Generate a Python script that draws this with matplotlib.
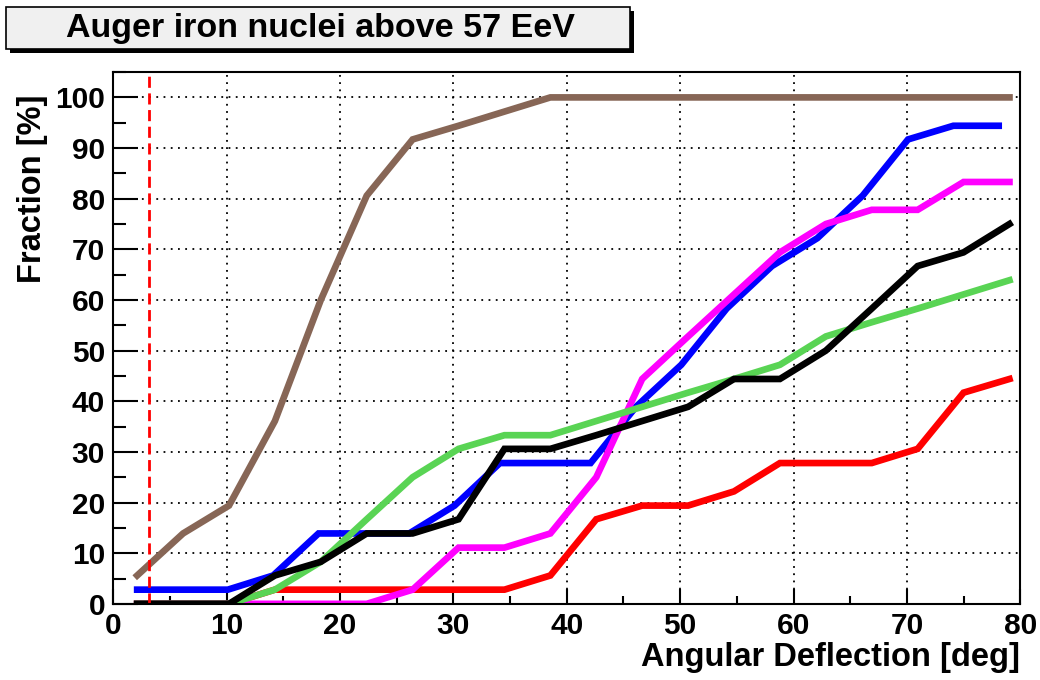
import matplotlib
matplotlib.use('Agg')
import matplotlib.pyplot as plt
from matplotlib.patches import Rectangle

# angular bins (deg)
x = [2.1, 6.15, 10.2, 14.25, 18.3, 22.35, 26.4, 30.45, 34.5, 38.55,
     42.6, 46.65, 50.7, 54.75, 58.8, 62.85, 66.9, 70.95, 75.0, 79.05]
x_blue = [2.1, 6.1, 10.1, 14.1, 18.1, 22.1, 26.1, 30.1, 34.1, 38.1,
          42.1, 46.1, 50.1, 54.1, 58.1, 62.1, 66.1, 70.1, 74.1, 78.1]

# cumulative fractions [%]
brown = [5.6, 13.9, 19.4, 36.1, 60.0, 80.6, 91.7, 94.4, 97.2, 100,
         100, 100, 100, 100, 100, 100, 100, 100, 100, 100]
blue = [2.8, 2.8, 2.8, 5.6, 13.9, 13.9, 13.9, 19.4, 27.8, 27.8,
        27.8, 38.9, 47.2, 58.3, 66.7, 72.2, 80.6, 91.7, 94.4, 94.4]
magenta = [0, 0, 0, 0, 0, 0, 2.8, 11.1, 11.1, 13.9,
           25.0, 44.4, 52.8, 61.1, 69.4, 75.0, 77.8, 77.8, 83.3, 83.3]
green = [0, 0, 0, 2.8, 8.3, 16.7, 25.0, 30.6, 33.3, 33.3,
         36.1, 38.9, 41.7, 44.4, 47.2, 52.8, 55.6, 58.3, 61.1, 63.9]
black = [0, 0, 0, 5.6, 8.3, 13.9, 13.9, 16.7, 30.6, 30.6,
         33.3, 36.1, 38.9, 44.4, 44.4, 50.0, 58.3, 66.7, 69.4, 75.0]
red = [0, 0, 0, 2.8, 2.8, 2.8, 2.8, 2.8, 2.8, 5.6,
       16.7, 19.4, 19.4, 22.2, 27.8, 27.8, 27.8, 30.6, 41.7, 44.4]

resolution = 3.1  # deg

plt.rcParams['font.family'] = ['Liberation Sans', 'DejaVu Sans']
plt.rcParams['font.weight'] = 'bold'

fig = plt.figure(figsize=(10.4, 6.8), dpi=100)
ax = fig.add_axes([0.109, 0.112, 0.872, 0.782])

lw = 4.8
ax.plot(x, red, color='#ff0000', lw=lw, solid_joinstyle='miter')
ax.plot(x_blue, blue, color='#0000ff', lw=lw, solid_joinstyle='miter')
ax.plot(x, magenta, color='#ff00ff', lw=lw, solid_joinstyle='miter')
ax.plot(x, green, color='#59d454', lw=lw, solid_joinstyle='miter')
ax.plot(x, black, color='black', lw=lw, solid_joinstyle='miter')
ax.plot(x, brown, color='#876656', lw=lw, solid_joinstyle='miter')

ax.plot([resolution, resolution], [0, 105], color='#ff0000', lw=2,
        linestyle=(0, (4, 2)))

ax.set_xlim(0, 80)
ax.set_ylim(0, 105)
ax.set_xticks(range(0, 81, 10))
ax.set_xticks(range(0, 81, 5), minor=True)
ax.set_yticks(range(0, 101, 10))
ax.set_yticks(range(0, 106, 5), minor=True)

ax.grid(True, which='major', color='black', linestyle=(0, (1, 3)), lw=1.3)
ax.tick_params(axis='both', which='both', direction='in', top=False, right=False,
               labelsize=21.5, width=1.5)
ax.tick_params(axis='x', which='major', length=11, pad=6)
ax.tick_params(axis='x', which='minor', length=6)
ax.tick_params(axis='y', which='major', length=18, pad=6)
ax.tick_params(axis='y', which='minor', length=9)
for lab in ax.get_xticklabels() + ax.get_yticklabels():
    lab.set_fontweight('bold')
for sp in ax.spines.values():
    sp.set_linewidth(1.5)

ax.set_xlabel('Angular Deflection [deg]', fontsize=23.5, fontweight='bold',
              loc='right', labelpad=1)
ax.set_ylabel('Fraction [%]', fontsize=23.5, fontweight='bold', loc='top')
ax.yaxis.set_label_coords(-0.072, 0.957)

# title box with drop shadow
W, H = 1040, 680
fig.patches.append(Rectangle((10 / W, 1 - 53 / H), 624 / W, 42 / H,
                             transform=fig.transFigure, facecolor='black',
                             edgecolor='none', zorder=1))
fig.patches.append(Rectangle((6 / W, 1 - 49 / H), 624 / W, 42 / H,
                             transform=fig.transFigure, facecolor='#f0f0f0',
                             edgecolor='black', lw=1.2, zorder=2))
fig.text(320 / W, 1 - 28 / H, 'Auger iron nuclei above 57 EeV', fontsize=24.5,
         fontweight='bold', ha='center', va='center', zorder=3)

fig.savefig('out.png', dpi=100)
